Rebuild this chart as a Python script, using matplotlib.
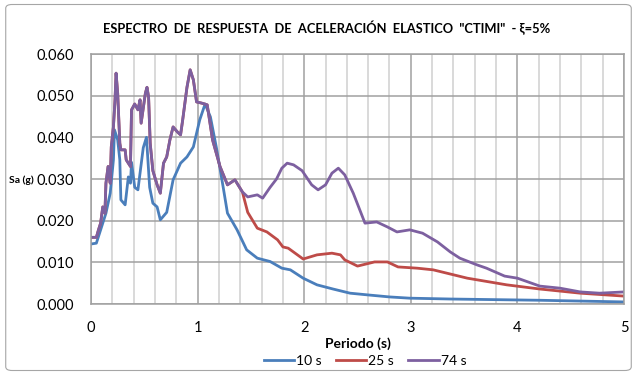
import matplotlib
matplotlib.use("Agg")
import matplotlib.pyplot as plt
from matplotlib.patches import FancyBboxPatch
from matplotlib.ticker import MultipleLocator, FormatStrFormatter

# Periodo (s) and spectral acceleration Sa (g)
# 10 s record
t_10 = [0.00, 0.05, 0.08, 0.11, 0.14, 0.18, 0.21, 0.22, 0.25, 0.27, 0.28, 0.32,
        0.35, 0.37, 0.38, 0.41, 0.44, 0.49, 0.52, 0.55, 0.58, 0.62, 0.65, 0.71,
        0.77, 0.84, 0.90, 0.96, 1.02, 1.07, 1.12, 1.18, 1.24, 1.28, 1.37, 1.46,
        1.56, 1.68, 1.79, 1.87, 1.99, 2.12, 2.27, 2.43, 2.59, 2.80, 2.99, 3.37,
        4.21, 5.00]
sa_10 = [0.0144, 0.0146, 0.0170, 0.0194, 0.0218, 0.0266, 0.0346, 0.0418, 0.0394,
         0.0346, 0.0250, 0.0238, 0.0305, 0.0290, 0.0340, 0.0280, 0.0274, 0.0375,
         0.0400, 0.0280, 0.0242, 0.0233, 0.0202, 0.0220, 0.0298, 0.0338, 0.0353,
         0.0377, 0.0442, 0.0480, 0.0449, 0.0370, 0.0280, 0.0218, 0.0178, 0.0130,
         0.0110, 0.0102, 0.0086, 0.0082, 0.0062, 0.0046, 0.0036, 0.0026, 0.0022,
         0.0017, 0.0014, 0.0012, 0.0009, 0.0005]

# 25 s and 74 s records coincide up to T = 1.42 s
t_common = [0.00, 0.05, 0.07, 0.09, 0.11, 0.13, 0.14, 0.16, 0.18, 0.19, 0.21,
            0.225, 0.235, 0.25, 0.27, 0.28, 0.32, 0.33, 0.37, 0.38, 0.41, 0.44,
            0.46, 0.47, 0.51, 0.525, 0.54, 0.555, 0.58, 0.62, 0.65, 0.68, 0.71,
            0.74, 0.77, 0.81, 0.84, 0.86, 0.90, 0.93, 0.96, 0.99, 1.04, 1.09,
            1.14, 1.21, 1.28, 1.35, 1.42]
sa_common = [0.0160, 0.0160, 0.0178, 0.0194, 0.0233, 0.0218, 0.0290, 0.0330,
             0.0290, 0.0377, 0.0425, 0.0490, 0.0554, 0.0506, 0.0386, 0.0370,
             0.0370, 0.0346, 0.0330, 0.0466, 0.0480, 0.0466, 0.0490, 0.0434,
             0.0506, 0.0520, 0.0497, 0.0386, 0.0320, 0.0286, 0.0266, 0.0338,
             0.0353, 0.0394, 0.0425, 0.0413, 0.0406, 0.0442, 0.0520, 0.0562,
             0.0538, 0.0485, 0.0482, 0.0478, 0.0394, 0.0330, 0.0286, 0.0298,
             0.0269]

# 25 s record beyond T = 1.42 s
t_25_tail = [1.47, 1.56, 1.65, 1.75, 1.80, 1.85, 1.99, 2.12, 2.26, 2.34, 2.38,
             2.50, 2.66, 2.78, 2.88, 3.06, 3.21, 3.37, 3.53, 3.90, 4.21, 4.59,
             5.00]
sa_25_tail = [0.0220, 0.0182, 0.0173, 0.0154, 0.0137, 0.0134, 0.0108, 0.0118,
              0.0122, 0.0118, 0.0106, 0.0091, 0.0101, 0.0101, 0.0089, 0.0086,
              0.0082, 0.0072, 0.0062, 0.0046, 0.0036, 0.0026, 0.0019]

# 74 s record beyond T = 1.42 s
t_74_tail = [1.47, 1.56, 1.61, 1.68, 1.74, 1.79, 1.84, 1.90, 1.98, 2.07, 2.13,
             2.20, 2.26, 2.32, 2.38, 2.46, 2.57, 2.68, 2.78, 2.87, 2.99, 3.11,
             3.25, 3.37, 3.46, 3.62, 3.71, 3.88, 4.00, 4.21, 4.40, 4.59, 4.77,
             5.00]
sa_74_tail = [0.0257, 0.0262, 0.0254, 0.0280, 0.0300, 0.0326, 0.0338, 0.0334,
              0.0320, 0.0286, 0.0274, 0.0286, 0.0314, 0.0326, 0.0310, 0.0266,
              0.0194, 0.0197, 0.0185, 0.0173, 0.0178, 0.0170, 0.0149, 0.0125,
              0.0110, 0.0094, 0.0086, 0.0067, 0.0062, 0.0043, 0.0038, 0.0029,
              0.0026, 0.0029]

labels = ["10 s", "25 s", "74 s"]
colors = ["#4a7ebb", "#be4b48", "#7d60a0"]

series = [
    (t_10, sa_10),
    (t_common + t_25_tail, sa_common + sa_25_tail),
    (t_common + t_74_tail, sa_common + sa_74_tail),
]

title = 'ESPECTRO  DE  RESPUESTA  DE  ACELERACIÓN  ELASTICO  "CTIMI"  - ξ=5%'
plt.rcParams["font.family"] = ["Lato", "DejaVu Sans"]

fig = plt.figure(figsize=(6.37, 3.75), dpi=100)
fig.patch.set_facecolor("white")

# rounded chart-area border
frame = FancyBboxPatch((0.009, 0.012), 0.982, 0.976,
                       boxstyle="round,pad=0,rounding_size=0.01",
                       transform=fig.transFigure, facecolor="none",
                       edgecolor="#a6a6a6", linewidth=0.8, zorder=-1)
fig.patches.append(frame)

ax = fig.add_axes([0.1429, 0.1893, 0.8367, 0.6667])
ax.set_xlim(0, 5)
ax.set_ylim(0, 0.06)
ax.xaxis.set_major_locator(MultipleLocator(1))
ax.xaxis.set_minor_locator(MultipleLocator(0.2))
ax.yaxis.set_major_locator(MultipleLocator(0.01))
ax.yaxis.set_major_formatter(FormatStrFormatter("%.3f"))

ax.grid(True, which="minor", axis="x", color="#cfcfcf", linewidth=1.1)
ax.grid(True, which="major", axis="x", color="#a0a0a0", linewidth=1.1)
ax.grid(True, which="major", axis="y", color="#a0a0a0", linewidth=1.1)
ax.set_axisbelow(True)
for s in ax.spines.values():
    s.set_color("#a0a0a0")
    s.set_linewidth(1.1)
ax.tick_params(which="both", length=0, labelsize=10.5, colors="black", pad=12)
ax.tick_params(axis="x", pad=12)

for (t, sa), name, c in zip(series, labels, colors):
    ax.plot(t, sa, color=c, linewidth=2.0, label=name, solid_joinstyle="round")

fig.text(0.512, 0.925, title, ha="center", va="center", fontsize=9.3,
         fontweight="bold")
fig.text(0.014, 0.52, "Sa (g)", ha="left", va="center", fontsize=7.5,
         fontweight="bold")
ax.set_xlabel("Periodo (s)", fontsize=10, fontweight="bold", labelpad=2)

fig.legend(loc="center", bbox_to_anchor=(0.573, 0.037), ncol=3,
           frameon=False, fontsize=10, handlelength=2.2,
           handletextpad=0.15, columnspacing=1.0)

fig.savefig("out.png", dpi=100, facecolor="white")
